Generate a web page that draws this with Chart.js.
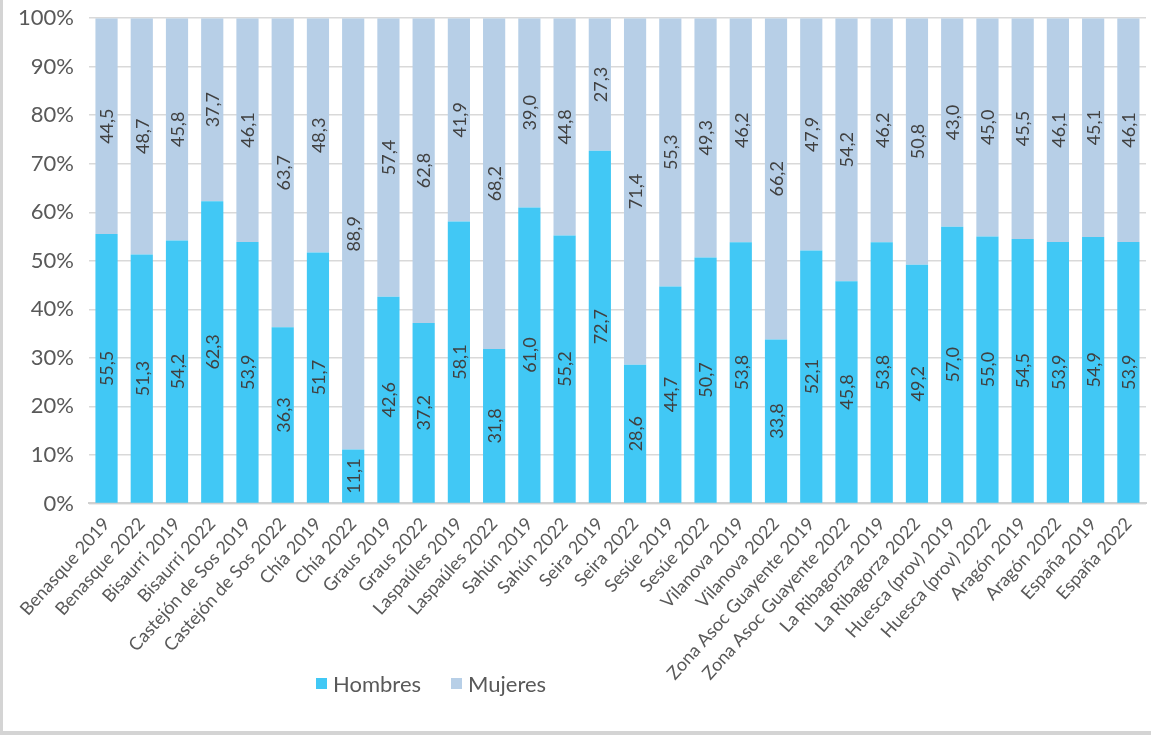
<!DOCTYPE html>
<html lang="es">
<head>
<meta charset="utf-8">
<title>Hombres y Mujeres</title>
<script src="https://cdn.jsdelivr.net/npm/chart.js@4/dist/chart.umd.min.js"></script>
<style>
  html, body { margin: 0; padding: 0; background: #fff; }
  #wrap {
    position: relative; width: 1151px; height: 735px; box-sizing: border-box; overflow: hidden;
    border-left: 3px solid #d4d4d4; border-bottom: 4px solid #d4d4d4;
  }
  #chart { position: absolute; left: 0; top: -10px; }
  #legend {
    position: absolute; left: 313px; top: 670px;
    font-family: Lato, "Open Sans", sans-serif; font-size: 22px; color: #595959;
    display: flex; gap: 30px;
  }
  #legend span { display: inline-flex; align-items: center; }
  #legend i { display: inline-block; width: 11px; height: 11px; margin-right: 6px; }
</style>
</head>
<body>
<div id="wrap">
  <canvas id="chart" width="1148" height="743"></canvas>
  <div id="legend"></div>
</div>
<script>
const categories = [
  "Benasque 2019","Benasque 2022","Bisaurri 2019","Bisaurri 2022",
  "Castejón de Sos 2019","Castejón de Sos 2022","Chía 2019","Chía 2022",
  "Graus 2019","Graus 2022","Laspaúles 2019","Laspaúles 2022",
  "Sahún 2019","Sahún 2022","Seira 2019","Seira 2022",
  "Sesúe 2019","Sesúe 2022","Vilanova 2019","Vilanova 2022",
  "Zona Asoc Guayente 2019","Zona Asoc Guayente 2022",
  "La Ribagorza 2019","La Ribagorza 2022",
  "Huesca (prov) 2019","Huesca (prov) 2022",
  "Aragón 2019","Aragón 2022","España 2019","España 2022"
];
const hombres = [55.5,51.3,54.2,62.3,53.9,36.3,51.7,11.1,42.6,37.2,58.1,31.8,61.0,55.2,72.7,
                 28.6,44.7,50.7,53.8,33.8,52.1,45.8,53.8,49.2,57.0,55.0,54.5,53.9,54.9,53.9];
const mujeres = [44.5,48.7,45.8,37.7,46.1,63.7,48.3,88.9,57.4,62.8,41.9,68.2,39.0,44.8,27.3,
                 71.4,55.3,49.3,46.2,66.2,47.9,54.2,46.2,50.8,43.0,45.0,45.5,46.1,45.1,46.1];
const yTicks = [0,10,20,30,40,50,60,70,80,90,100];

const colHombres = "#41c8f5";
const colMujeres = "#b7cfe7";
const FONT = "Lato";

// Vertical value labels in the middle of each stacked segment
const segmentLabels = {
  id: "segmentLabels",
  afterDatasetsDraw(chart) {
    const ctx = chart.ctx;
    ctx.save();
    ctx.font = "18px " + FONT;
    ctx.fillStyle = "#404040";
    ctx.textAlign = "center";
    ctx.textBaseline = "middle";
    chart.data.datasets.forEach((ds, i) => {
      chart.getDatasetMeta(i).data.forEach((bar, j) => {
        const top = Math.max(bar.y, chart.chartArea.top);
        const cy = (top + bar.base) / 2;
        ctx.save();
        ctx.translate(bar.x, cy);
        ctx.rotate(-Math.PI / 2);
        ctx.fillText(ds.data[j].toFixed(1).replace(".", ","), 0, 1);
        ctx.restore();
      });
    });
    ctx.restore();
  }
};

new Chart(document.getElementById("chart"), {
  type: "bar",
  data: {
    labels: categories,
    datasets: [
      { label: "Hombres", data: hombres, backgroundColor: colHombres },
      { label: "Mujeres", data: mujeres, backgroundColor: colMujeres }
    ]
  },
  options: {
    responsive: false,
    animation: false,
    layout: { padding: { top: 0, right: 5, bottom: 47, left: 0 } },
    plugins: { legend: { display: false }, tooltip: { enabled: false } },
    datasets: { bar: { categoryPercentage: 1, barPercentage: 0.63 } },
    scales: {
      x: {
        stacked: true,
        grid: { display: false },
        border: { color: "#d0d0d0", width: 2 },
        ticks: {
          color: "#595959", font: { family: FONT, size: 18 },
          maxRotation: 48, minRotation: 48, autoSkip: false, padding: 2
        }
      },
      y: {
        stacked: true, min: 0, max: 100,
        afterBuildTicks: axis => { axis.ticks = yTicks.map(v => ({ value: v })); },
        grid: { color: "#d9d9d9", lineWidth: 1.5, drawTicks: false },
        border: { display: false },
        ticks: {
          color: "#595959", font: { family: FONT, size: 22 }, padding: 15,
          callback: v => v + "%"
        }
      }
    }
  },
  plugins: [segmentLabels]
});

// Legend under the axis labels
const legend = document.getElementById("legend");
[["Hombres", colHombres], ["Mujeres", colMujeres]].forEach(([name, col]) => {
  const s = document.createElement("span");
  s.innerHTML = '<i style="background:' + col + '"></i>' + name;
  legend.appendChild(s);
});
</script>
</body>
</html>
